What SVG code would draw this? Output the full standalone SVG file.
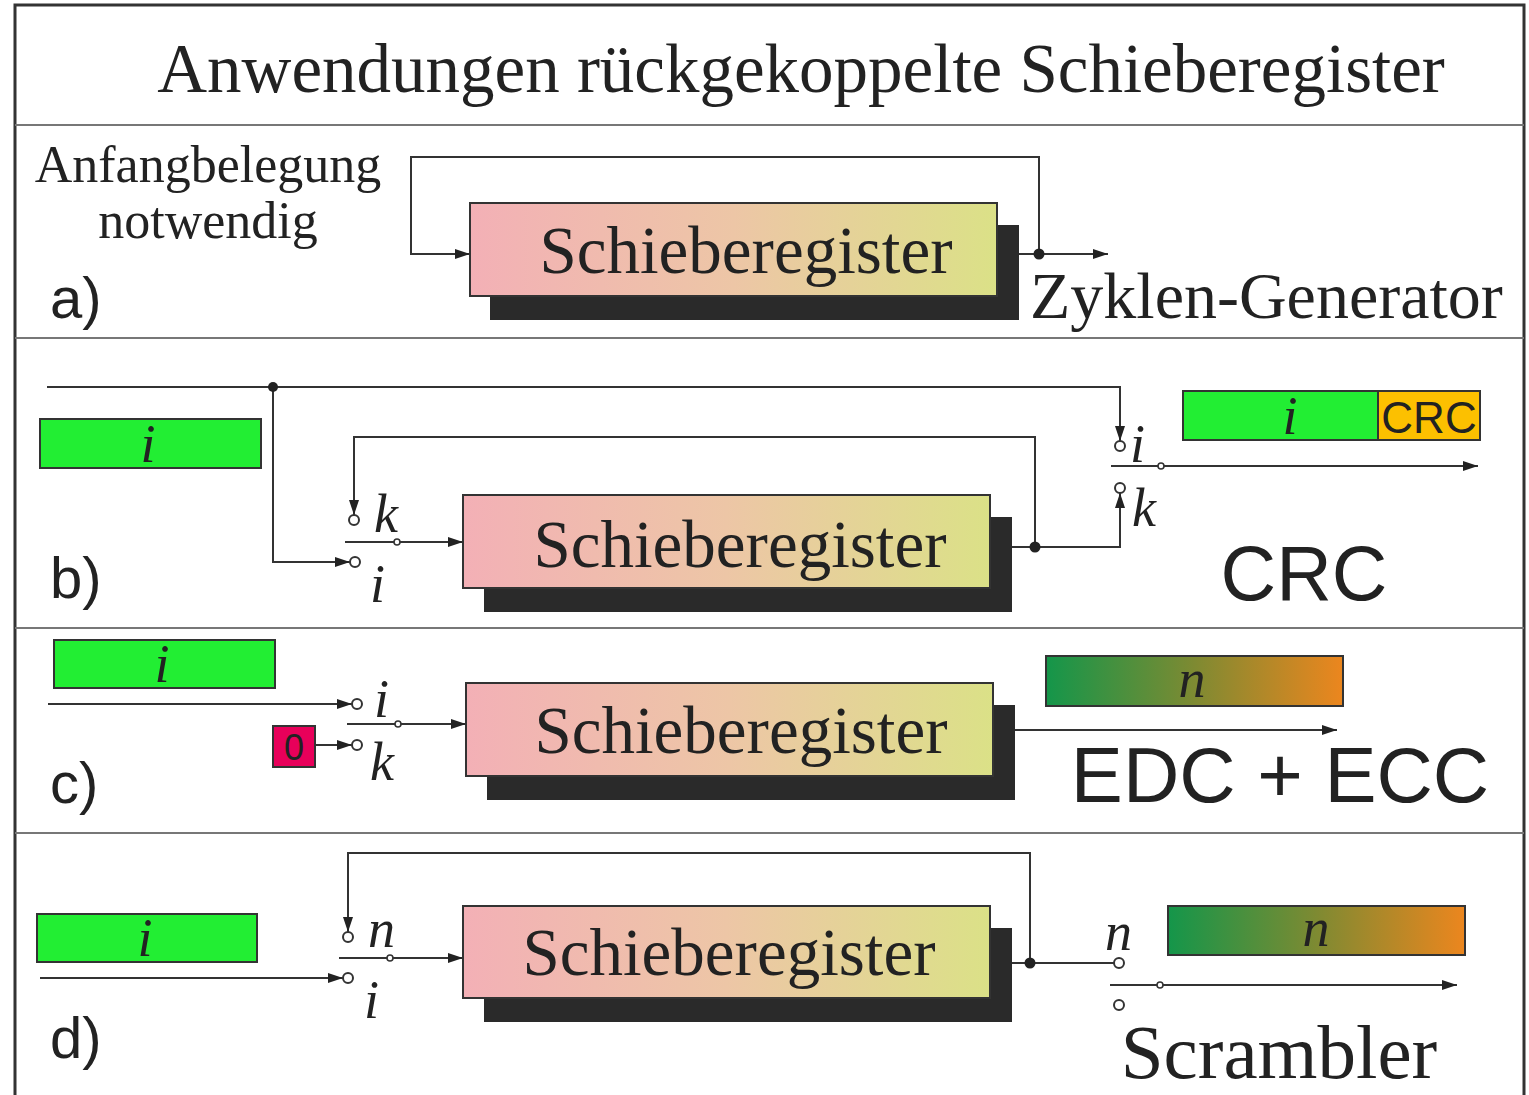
<svg xmlns="http://www.w3.org/2000/svg" width="1529" height="1095" viewBox="0 0 1529 1095">
<style>
.serif{font-family:"Liberation Serif","Times New Roman",serif;fill:#222}
.sans{font-family:"Liberation Sans",Arial,sans-serif;fill:#222}
.it{font-family:"Liberation Serif","Times New Roman",serif;font-style:italic;fill:#222}
.ln{fill:none;stroke:#333;stroke-width:2}
.arr{fill:none;stroke:#333;stroke-width:2;marker-end:url(#arr)}
.oc{fill:#fff;stroke:#333;stroke-width:2}
.sc{fill:#fff;stroke:#333;stroke-width:1.6}
.dot{fill:#222}
.reg{fill:url(#gReg);stroke:#333;stroke-width:2}
.shadow{fill:#2a2a2a}
.green{fill:#22ee33;stroke:#333;stroke-width:2}
.grad{fill:url(#gN);stroke:#333;stroke-width:2}
.sep{stroke:#777;stroke-width:2}
</style>
<defs>
<linearGradient id="gReg" x1="0" y1="0" x2="1" y2="0">
<stop offset="0" stop-color="#f3b0b6"/>
<stop offset="0.5" stop-color="#edc6a6"/>
<stop offset="1" stop-color="#dbe187"/>
</linearGradient>
<linearGradient id="gN" x1="0" y1="0" x2="1" y2="0">
<stop offset="0" stop-color="#14964a"/>
<stop offset="0.5" stop-color="#7e8a32"/>
<stop offset="1" stop-color="#ec861e"/>
</linearGradient>
<marker id="arr" markerWidth="15" markerHeight="10" refX="15" refY="5" orient="auto" markerUnits="userSpaceOnUse">
<path d="M0,0 L15,5 L0,10 z" fill="#222"/>
</marker>
</defs>
<rect x="0" y="0" width="1529" height="1095" fill="#fff"/>
<g id="frame">
<rect x="15" y="5" width="1509" height="1100" fill="none" stroke="#333" stroke-width="3"/>
<line class="sep" x1="15" y1="125" x2="1524" y2="125"/>
<line class="sep" x1="15" y1="338" x2="1524" y2="338"/>
<line class="sep" x1="15" y1="628" x2="1524" y2="628"/>
<line class="sep" x1="15" y1="833" x2="1524" y2="833"/>
</g>
<text class="serif" x="801" y="92" font-size="69" text-anchor="middle">Anwendungen rückgekoppelte Schieberegister</text>

<!-- a) -->
<g id="a-labels">
<text class="serif" x="208" y="182" font-size="52" text-anchor="middle">Anfangbelegung</text>
<text class="serif" x="208" y="238" font-size="52" text-anchor="middle">notwendig</text>
<text class="sans" x="50" y="318" font-size="58">a)</text>
<text class="serif" x="1030" y="318" font-size="66">Zyklen-Generator</text>
</g>
<g id="a-register">
<rect class="shadow" x="490" y="225" width="529" height="95"/>
<rect class="reg" x="470" y="203" width="527" height="93"/>
<text class="serif" x="746" y="273" font-size="67" text-anchor="middle">Schieberegister</text>
</g>

<!-- b) -->
<g id="b-input">
<rect class="green" x="40" y="419" width="221" height="49"/>
<text class="it" x="148" y="462" font-size="54" text-anchor="middle">i</text>
</g>
<g id="b-register">
<rect class="shadow" x="484" y="517" width="528" height="95"/>
<rect class="reg" x="463" y="495" width="527" height="93"/>
<text class="serif" x="740" y="567" font-size="67" text-anchor="middle">Schieberegister</text>
</g>
<g id="b-output">
<rect class="green" x="1183" y="391" width="195" height="49"/>
<text class="it" x="1290" y="434" font-size="54" text-anchor="middle">i</text>
<rect x="1378" y="391" width="102" height="49" fill="#fcc000" stroke="#333" stroke-width="2"/>
<text class="sans" x="1429" y="433" font-size="44" text-anchor="middle">CRC</text>
</g>
<g id="b-labels">
<text class="sans" x="50" y="598" font-size="58">b)</text>
<text class="sans" x="1304" y="600" font-size="77" text-anchor="middle">CRC</text>
<text class="it" x="374" y="532" font-size="54">k</text>
<text class="it" x="370" y="602" font-size="54">i</text>
<text class="it" x="1130" y="462" font-size="54">i</text>
<text class="it" x="1132" y="526" font-size="54">k</text>
</g>

<!-- c) -->
<g id="c-input">
<rect class="green" x="54" y="640" width="221" height="48"/>
<text class="it" x="162" y="682" font-size="54" text-anchor="middle">i</text>
</g>
<g id="c-zero">
<rect x="273" y="726" width="42" height="41" fill="#e8005a" stroke="#333" stroke-width="2"/>
<text class="sans" x="294" y="760" font-size="36" text-anchor="middle">0</text>
</g>
<g id="c-register">
<rect class="shadow" x="487" y="705" width="528" height="95"/>
<rect class="reg" x="466" y="683" width="527" height="93"/>
<text class="serif" x="741" y="753" font-size="67" text-anchor="middle">Schieberegister</text>
</g>
<g id="c-output">
<rect class="grad" x="1046" y="656" width="297" height="50"/>
<text class="it" x="1192" y="697" font-size="54" text-anchor="middle">n</text>
</g>
<g id="c-labels">
<text class="sans" x="50" y="803" font-size="58">c)</text>
<text class="sans" x="1280" y="802" font-size="78" text-anchor="middle">EDC + ECC</text>
<text class="it" x="374" y="717" font-size="54">i</text>
<text class="it" x="370" y="780" font-size="54">k</text>
</g>

<!-- d) -->
<g id="d-input">
<rect class="green" x="37" y="914" width="220" height="48"/>
<text class="it" x="145" y="956" font-size="54" text-anchor="middle">i</text>
</g>
<g id="d-register">
<rect class="shadow" x="484" y="928" width="528" height="94"/>
<rect class="reg" x="463" y="906" width="527" height="92"/>
<text class="serif" x="729" y="975" font-size="67" text-anchor="middle">Schieberegister</text>
</g>
<g id="d-output">
<rect class="grad" x="1168" y="906" width="297" height="49"/>
<text class="it" x="1316" y="946" font-size="54" text-anchor="middle">n</text>
</g>
<g id="d-labels">
<text class="sans" x="50" y="1058" font-size="58">d)</text>
<text class="serif" x="1279" y="1078" font-size="77" text-anchor="middle">Scrambler</text>
<text class="it" x="368" y="947" font-size="54">n</text>
<text class="it" x="364" y="1018" font-size="54">i</text>
<text class="it" x="1105" y="950" font-size="54">n</text>
</g>

<g id="connectors">
<!-- a -->
<path class="arr" d="M1039,254 V157 H411 V254 H470"/>
<path class="arr" d="M1019,254 H1108"/>
<circle class="dot" cx="1039" cy="254" r="5.5"/>
<!-- b -->
<path class="arr" d="M47,387 H1120 V441"/>
<path class="arr" d="M273,387 V562 H350"/>
<circle class="dot" cx="273" cy="387" r="5"/>
<path class="arr" d="M1035,547 V437 H354 V515"/>
<path class="arr" d="M1012,547 H1120 V493"/>
<circle class="dot" cx="1035" cy="547" r="5.5"/>
<path class="ln" d="M345,542 H394"/>
<path class="arr" d="M400,542 H463"/>
<circle class="sc" cx="397" cy="542" r="3"/>
<circle class="oc" cx="354" cy="520" r="5"/>
<circle class="oc" cx="355" cy="562" r="5"/>
<path class="ln" d="M1111,466 H1158"/>
<path class="arr" d="M1164,466 H1478"/>
<circle class="sc" cx="1161" cy="466" r="3"/>
<circle class="oc" cx="1120" cy="446" r="5"/>
<circle class="oc" cx="1120" cy="488" r="5"/>
<!-- c -->
<path class="arr" d="M48,704 H352"/>
<path class="arr" d="M315,745 H352"/>
<circle class="oc" cx="357" cy="704" r="5"/>
<circle class="oc" cx="357" cy="745" r="5"/>
<path class="ln" d="M347,724 H395"/>
<path class="arr" d="M401,724 H466"/>
<circle class="sc" cx="398" cy="724" r="3"/>
<path class="arr" d="M1015,730 H1337"/>
<!-- d -->
<path class="arr" d="M1030,963 V853 H348 V932"/>
<path class="arr" d="M40,978 H343"/>
<circle class="oc" cx="348" cy="937" r="5"/>
<circle class="oc" cx="348" cy="978" r="5"/>
<path class="ln" d="M339,958 H387"/>
<path class="arr" d="M393,958 H463"/>
<circle class="sc" cx="390" cy="958" r="3"/>
<path class="ln" d="M1012,963 H1114"/>
<circle class="dot" cx="1030" cy="963" r="5.5"/>
<circle class="oc" cx="1119" cy="963" r="5"/>
<circle class="oc" cx="1119" cy="1005" r="5"/>
<path class="ln" d="M1110,985 H1157"/>
<path class="arr" d="M1163,985 H1457"/>
<circle class="sc" cx="1160" cy="985" r="3"/>
</g>
</svg>
